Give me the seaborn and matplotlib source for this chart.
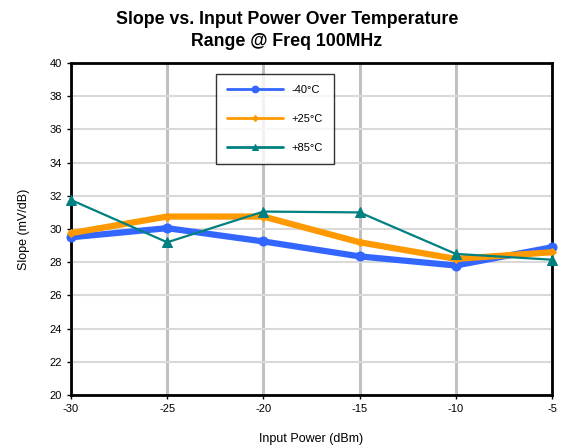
import matplotlib
matplotlib.use("Agg")
import matplotlib.pyplot as plt
import seaborn as sns
import pandas as pd

input_power = [-30, -25, -20, -15, -10, -5]
slope_m40 = [29.5, 30.05, 29.25, 28.35, 27.8, 28.9]
slope_p25 = [29.75, 30.75, 30.75, 29.2, 28.2, 28.6]
slope_p85 = [31.75, 29.2, 31.05, 31.0, 28.5, 28.15]
series_names = ["-40°C", "+25°C", "+85°C"]
colors = ["#3366FF", "#FF9900", "#008080"]

sns.set_theme(style="white")
plt.rcParams['font.family'] = ['Liberation Sans', 'DejaVu Sans']
plt.rcParams['axes.unicode_minus'] = False
plt.rcParams['text.color'] = 'black'
plt.rcParams['axes.labelcolor'] = 'black'

df = pd.DataFrame({
    "x": input_power * 3,
    "y": slope_m40 + slope_p25 + slope_p85,
    "s": sum([[n] * len(input_power) for n in series_names], []),
})

fig = plt.figure(figsize=(5.65, 4.48), dpi=100)
ax = fig.add_axes([71/565, 1-395/448, (552-71)/565, (395-63)/448])

styles = {
    "-40°C": dict(lw=4.5, marker="o", ms=6.5),
    "+25°C": dict(lw=4.5, marker="D", ms=4),
    "+85°C": dict(lw=1.6, marker="^", ms=6.5),
}
for name, c in zip(series_names, colors):
    sub = df[df.s == name]
    st = styles[name]
    sns.lineplot(data=sub, x="x", y="y", ax=ax, color=c, lw=st["lw"],
                 marker=st["marker"], markersize=st["ms"], markeredgecolor=c,
                 label=name, zorder=3, clip_on=False)

ax.set_xlim(-30, -5)
ax.set_ylim(20, 40)
ax.set_xticks(input_power)
ax.set_yticks(range(20, 41, 2))
ax.yaxis.grid(True, color="#d9d9d9", lw=1.5)
ax.xaxis.grid(True, color="#c0c0c0", lw=2.2)
ax.set_axisbelow(True)
for sp in ax.spines.values():
    sp.set_color("black")
    sp.set_linewidth(2)
ax.tick_params(axis="both", labelsize=8, colors="black", length=3, width=1,
               direction="out", left=True, bottom=True)
ax.set_xlabel("Input Power (dBm)", fontsize=9, labelpad=14)
ax.set_ylabel("Slope (mV/dB)", fontsize=9, labelpad=14)
fig.text(287/565, 1-30.5/448,
         "Slope vs. Input Power Over Temperature\nRange @ Freq 100MHz",
         fontsize=12.8, fontweight="bold", color="black",
         ha="center", va="center", linespacing=1.45)

leg = ax.legend(loc="upper left", bbox_to_anchor=((216-71)/481, 1-(74-63)/332),
                frameon=True, fancybox=False, edgecolor="black", fontsize=8,
                handlelength=5, labelspacing=1.7, borderpad=1.0, borderaxespad=0,
                markerscale=0.75)
leg.get_frame().set_linewidth(1)
for h in leg.get_lines():
    h.set_linewidth(2)
for t in leg.get_texts():
    t.set_color("black")

fig.savefig("out.png", dpi=100)
